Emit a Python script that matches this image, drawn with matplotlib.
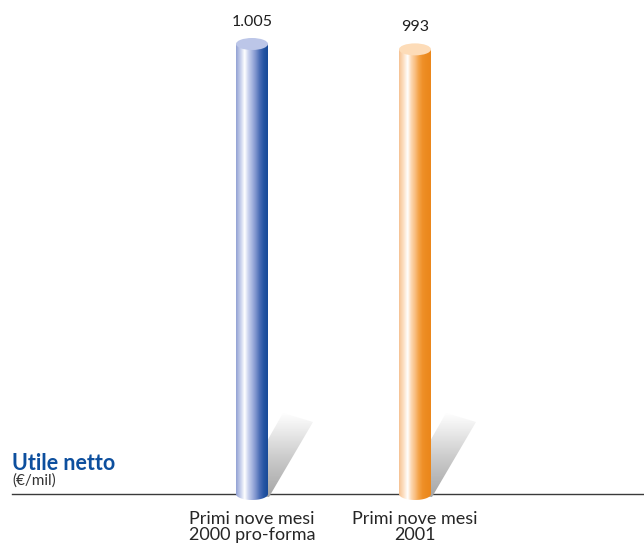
import matplotlib
matplotlib.use("Agg")
import matplotlib.pyplot as plt
import numpy as np
from matplotlib.colors import LinearSegmentedColormap
from matplotlib.patches import Ellipse, Polygon, PathPatch
from matplotlib.path import Path

plt.rcParams["font.family"] = ["Lato", "DejaVu Sans"]

# ── 데이터 ──────────────────────────────────────
categories = ["Primi nove mesi\n2000 pro-forma", "Primi nove mesi\n2001"]
values = [1005, 993]

# ── 스타일 ──────────────────────────────────────
W, H = 644, 544
BASE_PX = 494          # 기준선 y (px, 위에서부터)
CX0_PX = 252           # 첫 번째 원기둥 중심 x (px)
STEP_PX = 163          # 카테고리 간격 (px)
PX_Y = 450 / 1005      # 값 1 당 px

body_cmaps = [
    LinearSegmentedColormap.from_list("blue", [
        (0.00, "#93a2d4"), (0.14, "#c6cfec"), (0.27, "#ffffff"), (0.38, "#cdd5ef"),
        (0.50, "#a7b5e0"), (0.62, "#7d93cd"), (0.74, "#4b6db6"), (0.87, "#2656a4"),
        (1.00, "#184a98")]),
    LinearSegmentedColormap.from_list("orange", [
        (0.00, "#f6c293"), (0.14, "#fde0c3"), (0.27, "#ffffff"), (0.38, "#fdd8b2"),
        (0.50, "#f9bf82"), (0.62, "#f4a348"), (0.74, "#ef9028"), (0.87, "#ec8a1f"),
        (1.00, "#eb871b")]),
]
top_colors = ["#bcc6e8", "#fddcb8"]
shadow_cmap = LinearSegmentedColormap.from_list(
    "shadow", [(0.0, "#a6a6a6"), (0.45, "#cacaca"), (0.8, "#ececec"), (1.0, "#ffffff")])


def dx(px):
    return px / STEP_PX


def dy(px):
    return px / PX_Y


fig = plt.figure(figsize=(W / 100, H / 100), dpi=100)
ax = fig.add_axes([0, 0, 1, 1])
xmin, xmax = -CX0_PX / STEP_PX, (W - CX0_PX) / STEP_PX
ymin, ymax = -(H - BASE_PX) / PX_Y, BASE_PX / PX_Y

ax.plot([xmin + dx(12), xmax], [0, 0], color="#3a3a3a", lw=1.0, zorder=1)

half_w = dx(16)
ell_h = dy(12)

for i, (cat, v) in enumerate(zip(categories, values)):
    # 그림자
    sh_pts = [(-15, 0), (31, 81), (61, 72), (17, -3)]
    sh_poly = Polygon([(i + dx(px), dy(py)) for px, py in sh_pts], closed=True,
                      facecolor="none", edgecolor="none")
    ax.add_patch(sh_poly)
    grad = np.linspace(0, 1, 64).reshape(-1, 1)
    im = ax.imshow(grad, cmap=shadow_cmap, aspect="auto", origin="lower",
                   extent=(i + dx(-15), i + dx(61), dy(-3), dy(81)), zorder=2)
    im.set_clip_path(sh_poly)

    # 원기둥 몸체
    x0, x1 = i - half_w, i + half_w
    t = np.linspace(np.pi, 2 * np.pi, 40)
    bottom = [(i + half_w * np.cos(a), (ell_h / 2) * np.sin(a)) for a in t]
    verts = [(x0, v)] + bottom + [(x1, v), (x0, v)]
    body = PathPatch(Path(verts, closed=True), facecolor="none", edgecolor="none")
    ax.add_patch(body)
    row = np.linspace(0, 1, 200).reshape(1, -1)
    im = ax.imshow(row, cmap=body_cmaps[i], aspect="auto",
                   extent=(x0, x1, -ell_h, v), zorder=3)
    im.set_clip_path(body)

    # 윗면
    ax.add_patch(Ellipse((i, v), 2 * half_w, ell_h, facecolor=top_colors[i],
                         edgecolor="none", zorder=4))

    # 값 레이블
    ax.text(i, v + dy(22), f"{v:,}".replace(",", "."), ha="center", va="center",
            fontsize=11.5, color="#1e1e1e", zorder=5)

    # 카테고리 레이블
    ax.text(i, -dy(33), cat, ha="center", va="center", fontsize=13,
            color="#262626", linespacing=0.95)

ax.set_xlim(xmin, xmax)
ax.set_ylim(ymin, ymax)
ax.axis("off")

fig.text(12 / W, 1 - 463 / H, "Utile netto", fontsize=15.5, fontweight="bold",
         color="#0d4f9e", va="center", ha="left")
fig.text(12 / W, 1 - 481 / H, "(€/mil)", fontsize=11, color="#333333",
         va="center", ha="left")

fig.savefig("out.png", dpi=100)
